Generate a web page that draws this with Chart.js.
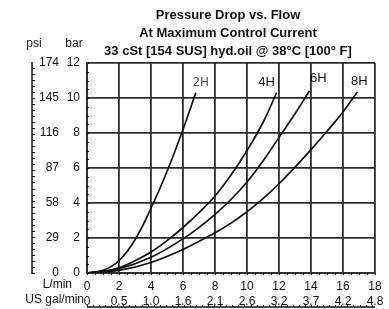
<!DOCTYPE html>
<html>
<head>
<meta charset="utf-8">
<script src="https://cdn.jsdelivr.net/npm/chart.js@4"></script>
<style>
  body { margin: 0; background: #fff; }
  #wrap { width: 389px; height: 309px; position: relative; }
</style>
</head>
<body>
<div id="wrap"><canvas id="chart"></canvas></div>
<script>
// Flow (L/min) and pressure drop (bar)
const flow2H = [0, 1, 2, 3, 4, 5, 6, 6.8];
const bar2H = [0, 0.15, 0.7, 1.9, 3.7, 5.8, 8.2, 10.3];
const flow4H = [0, 1, 2, 3, 4, 5, 6, 7, 8, 9, 10, 11, 11.85];
const bar4H = [0, 0.08, 0.3, 0.7, 1.2, 1.85, 2.6, 3.45, 4.4, 5.6, 7.0, 8.6, 10.3];
const flow6H = [0, 2, 4, 6, 7, 8, 9, 10, 11, 12, 13, 13.9];
const bar6H = [0, 0.25, 0.9, 1.95, 2.6, 3.35, 4.2, 5.2, 6.4, 7.75, 9.1, 10.4];
const flow8H = [0, 2, 4, 6, 8, 9, 10, 11, 12, 13, 14, 15, 16, 16.9];
const bar8H = [0, 0.15, 0.6, 1.35, 2.3, 2.85, 3.5, 4.25, 5.1, 6.05, 7.05, 8.1, 9.2, 10.35];

// Tick labels
const psiLabels = ['0', '29', '58', '87', '116', '145', '174'];
const galLabels = ['0', '0.5', '1.0', '1.6', '2.1', '2.6', '3.2', '3.7', '4.2', '4.8'];
const titleLines = ['Pressure Drop vs. Flow', 'At Maximum Control Current', '33 cSt [154 SUS] hyd.oil @ 38°C [100° F]'];

const FONT = '"Liberation Sans", Arial, sans-serif';
const INK = '#111';

function toPoints(xs, ys) {
    return xs.map((x, i) => ({ x: x, y: ys[i] }));
}

function curve(label, xs, ys, labelFont, labelColor, dx, dy) {
    return {
        label: label,
        data: toPoints(xs, ys),
        borderColor: '#111',
        borderWidth: 1.7,
        pointRadius: 0,
        fill: false,
        tension: 0.4,
        tagFont: labelFont,
        tagColor: labelColor,
        tagDx: dx,
        tagDy: dy
    };
}

// Extra text, rulers and curve tags
const decorations = {
    id: 'decorations',
    afterDraw(chart) {
        const ctx = chart.ctx;
        const area = chart.chartArea;
        const x = chart.scales.x;
        const y = chart.scales.y;
        const cx = (area.left + area.right) / 2;
        ctx.save();
        ctx.fillStyle = INK;
        ctx.strokeStyle = INK;

        // titles
        ctx.font = 'bold 13px ' + FONT;
        ctx.textAlign = 'center';
        ctx.textBaseline = 'middle';
        titleLines.forEach((t, i) => ctx.fillText(t, cx - 3, 15 + i * 18));

        // axis names
        ctx.font = '12px ' + FONT;
        ctx.fillText('psi', 34, 44);
        ctx.fillText('bar', 74, 44);
        ctx.textAlign = 'right';
        ctx.fillText('L/min', 72, 285);
        ctx.fillText('US gal/min', 84, 300);

        // psi ruler
        ctx.lineWidth = 1.5;
        ctx.beginPath();
        ctx.moveTo(32, y.getPixelForValue(12) - 1);
        ctx.lineTo(32, y.getPixelForValue(0) + 1);
        ctx.stroke();
        ctx.lineWidth = 1;
        ctx.beginPath();
        for (let p = 0; p <= 174; p += 5) {
            const py = Math.round(y.getPixelForValue(p / 14.5)) + 0.5;
            ctx.moveTo(32, py);
            ctx.lineTo(35, py);
        }
        ctx.stroke();

        // gal ruler
        const gy = 307;
        ctx.lineWidth = 1.5;
        ctx.beginPath();
        ctx.moveTo(x.getPixelForValue(0), gy);
        ctx.lineTo(x.getPixelForValue(18), gy);
        ctx.stroke();
        ctx.lineWidth = 1;
        ctx.beginPath();
        for (let g = 0; g <= 4.75; g += 0.1) {
            const px = Math.round(x.getPixelForValue(g * 3.785)) + 0.5;
            ctx.moveTo(px, gy);
            ctx.lineTo(px, gy - 2);
        }
        ctx.stroke();

        // minor ticks on the plot frame
        ctx.beginPath();
        for (let v = 0; v <= 18; v += 0.5) {
            const px = Math.round(x.getPixelForValue(v)) + 0.5;
            ctx.moveTo(px, area.bottom);
            ctx.lineTo(px, area.bottom + 2);
        }
        for (let v = 0; v <= 12; v += 0.5) {
            const py = Math.round(y.getPixelForValue(v)) + 0.5;
            ctx.moveTo(area.left, py);
            ctx.lineTo(area.left + 2, py);
        }
        ctx.stroke();

        // curve tags
        ctx.textAlign = 'center';
        chart.data.datasets.forEach(ds => {
            const last = ds.data[ds.data.length - 1];
            ctx.font = ds.tagFont;
            ctx.fillStyle = ds.tagColor;
            ctx.fillText(ds.label, x.getPixelForValue(last.x) + ds.tagDx, y.getPixelForValue(last.y) + ds.tagDy);
        });
        ctx.restore();
    }
};

const tickFont = { family: FONT, size: 12 };
const gridColor = '#2b2b2b';

new Chart('chart', {
    type: 'line',
    data: {
        datasets: [
            curve('2H', flow2H, bar2H, '12px "DejaVu Sans", sans-serif', '#555', 5, -10),
            curve('4H', flow4H, bar4H, '13px ' + FONT, '#111', -10, -10),
            curve('6H', flow6H, bar6H, '13px ' + FONT, '#111', 9, -13),
            curve('8H', flow8H, bar8H, '13px ' + FONT, '#111', 2, -10)
        ]
    },
    options: {
        responsive: true,
        maintainAspectRatio: false,
        animation: false,
        layout: { padding: { top: 63, right: 14, bottom: 1, left: 0 } },
        plugins: {
            legend: { display: false },
            tooltip: { enabled: false }
        },
        scales: {
            x: {
                type: 'linear',
                position: 'bottom',
                weight: 0,
                min: 0,
                max: 18,
                ticks: { stepSize: 2, padding: 6, color: INK, font: tickFont, maxRotation: 0 },
                grid: { color: gridColor, lineWidth: 1.8, drawTicks: false },
                border: { color: gridColor, width: 1.8 },
                afterFit(scale) { scale.height = 18; }
            },
            x2: {
                type: 'linear',
                position: 'bottom',
                weight: 1,
                min: 0,
                max: 18,
                ticks: {
                    stepSize: 2, padding: 3, color: INK, font: tickFont, maxRotation: 0,
                    callback: (v) => galLabels[Math.round(v / 2)]
                },
                grid: { display: false, drawTicks: false },
                border: { display: false },
                afterFit(scale) { scale.height = 17; }
            },
            y: {
                position: 'left',
                weight: 0,
                min: 0,
                max: 12,
                ticks: { stepSize: 2, padding: 7, color: INK, font: tickFont },
                grid: { color: gridColor, lineWidth: 1.8, drawTicks: false },
                border: { color: gridColor, width: 1.8 },
                afterFit(scale) { scale.width = 25; }
            },
            y2: {
                position: 'left',
                weight: 1,
                min: 0,
                max: 12,
                ticks: {
                    stepSize: 2, padding: 3, color: INK, font: tickFont,
                    callback: (v) => psiLabels[Math.round(v / 2)]
                },
                grid: { display: false, drawTicks: false },
                border: { display: false },
                afterFit(scale) { scale.width = 62; }
            }
        }
    },
    plugins: [decorations]
});
</script>
</body>
</html>
